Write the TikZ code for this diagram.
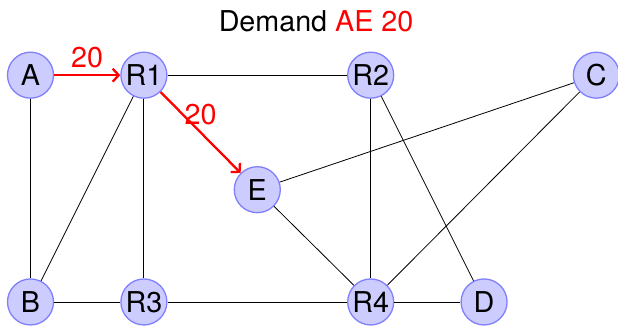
\documentclass[tikz,border=0pt]{standalone}
\usepackage{fontspec}
\setmainfont{TeX Gyre Heros}
\usetikzlibrary{arrows.meta}
\tikzset{
  router/.style={circle, draw=blue!50, fill=blue!20, line width=1.3bp, minimum size=46bp, inner sep=0pt},
  link/.style={draw=black, line width=0.8bp},
  flow/.style={draw=red, line width=2.3bp, -{Straight Barb[length=6bp, width=13bp]}},
  flowlabel/.style={text=red, above, inner sep=6bp}
}
\begin{document}
\begin{tikzpicture}[x=113.4bp, y=113.4bp, every node/.style={font=\fontsize{28.8}{34}\selectfont}]
\useasboundingbox (-0.269,-0.212) rectangle (5.181,2.663);
\node[router] (A) at (0,2) {A};
\node[router] (R1) at (1,2) {R1};
\node[router] (R2) at (3,2) {R2};
\node[router] (C) at (4.99,2) {C};
\node[router] (E) at (2,0.99) {E};
\node[router] (B) at (0,0) {B};
\node[router] (R3) at (1,0) {R3};
\node[router] (R4) at (3,0) {R4};
\node[router] (D) at (4,0) {D};
\node (title) at (2.518,2.478) {Demand \textcolor{red}{AE 20}};
\draw[link] (R1) -- (R2);
\draw[link] (A) -- (B);
\draw[link] (R1) -- (B);
\draw[link] (R1) -- (R3);
\draw[link] (R2) -- (R4);
\draw[link] (R2) -- (D);
\draw[link] (C) -- (E);
\draw[link] (C) -- (R4);
\draw[link] (E) -- (R4);
\draw[link] (B) -- (R3);
\draw[link] (R3) -- (R4);
\draw[link] (R4) -- (D);
\draw[flow] (A) -- node[flowlabel] {20} (R1);
\draw[flow] (R1) -- node[flowlabel] {20} (E);
\end{tikzpicture}
\end{document}
